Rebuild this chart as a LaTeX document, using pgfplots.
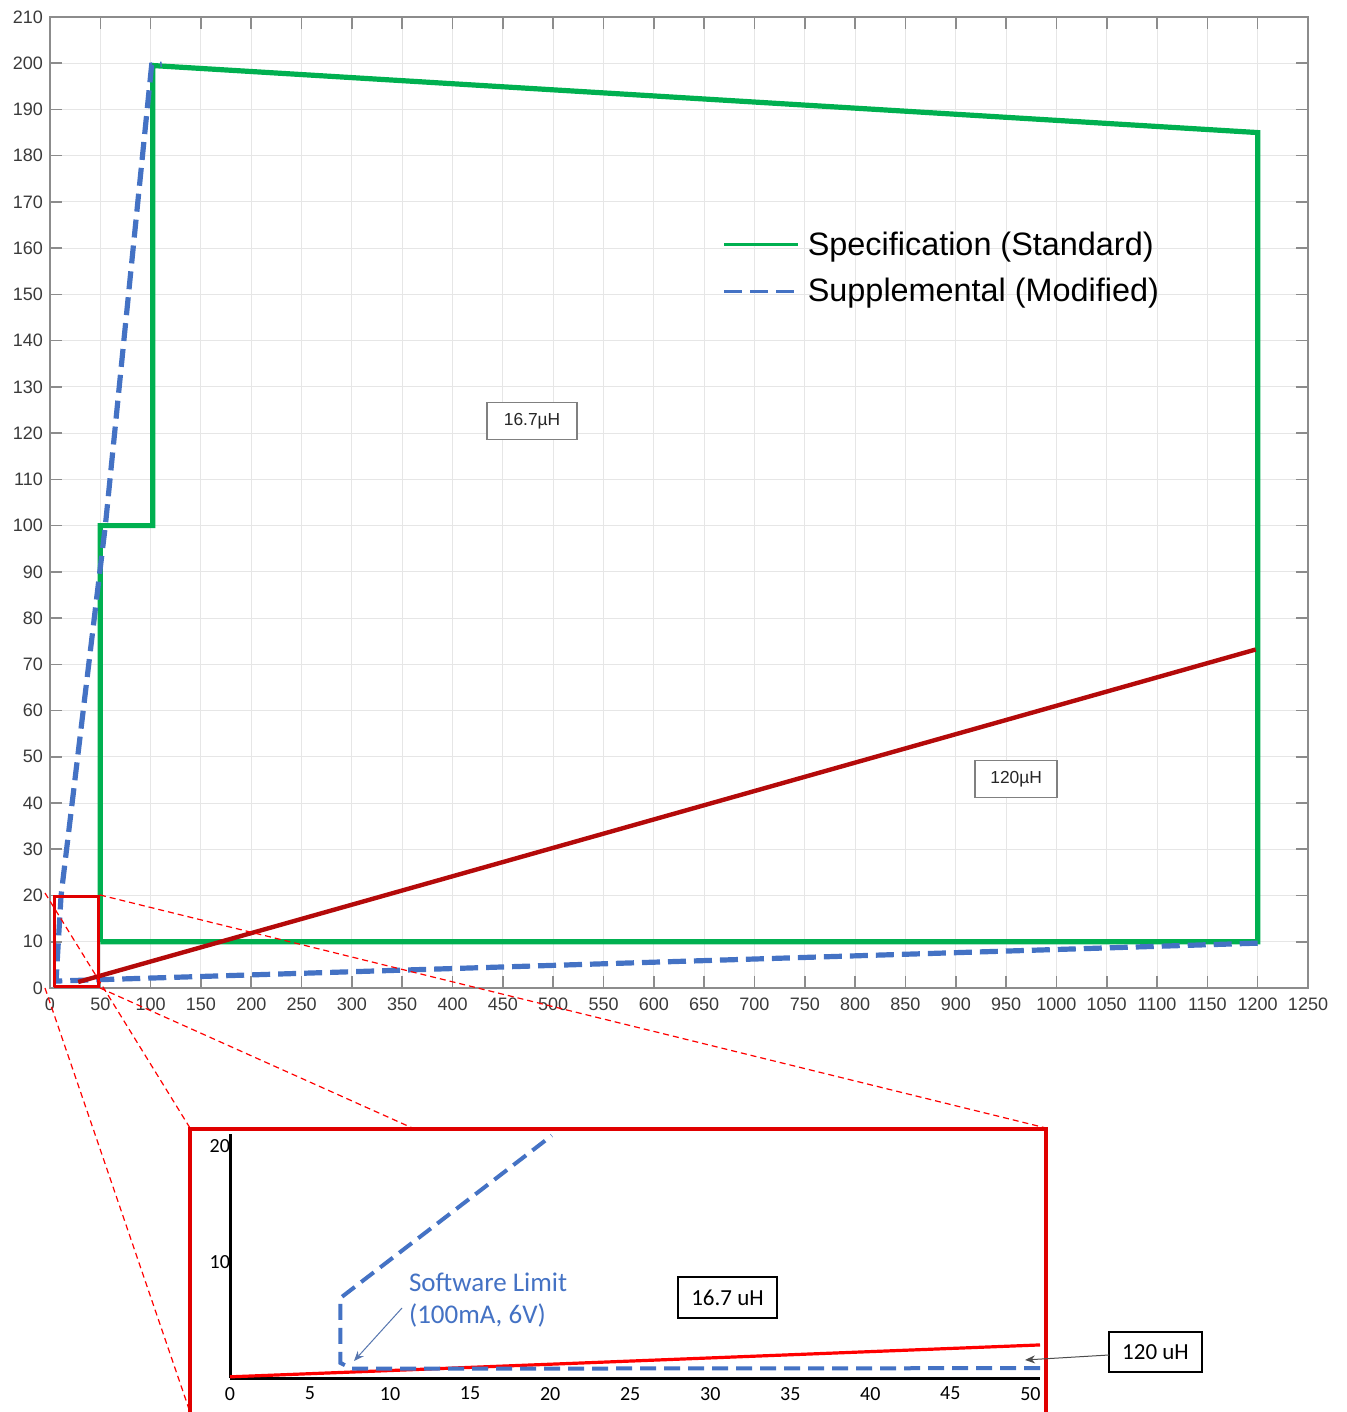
\documentclass[border=0pt]{standalone}
\usepackage{fontspec}
\setmainfont{Liberation Sans}
\newfontfamily\carlito{Carlito}
\usepackage{pgfplots}
\pgfplotsset{compat=1.18}
\usetikzlibrary{arrows.meta}
\definecolor{specgreen}{HTML}{00B050}
\definecolor{supblue}{HTML}{4472C4}
\definecolor{limred}{HTML}{B40A0A}
\definecolor{zoomred}{HTML}{E00000}
\definecolor{axgray}{HTML}{8C8C8C}
\definecolor{lblgray}{HTML}{3A3A3A}
\definecolor{gridgray}{HTML}{E6E6E6}
\begin{document}
\begin{tikzpicture}
\useasboundingbox (0,0) rectangle (673pt,706pt);
% ---------------- main axis ----------------
\begin{axis}[
  at={(25pt,212pt)}, anchor=south west,
  scale only axis, width=629pt, height=485.5pt,
  xmin=0, xmax=1250, ymin=0, ymax=210,
  xtick={0,50,...,1250}, ytick={0,10,...,210},
  grid=major, major grid style={gridgray, line width=0.5pt},
  axis line style={axgray, line width=0.8pt},
  tick style={axgray, line width=0.8pt},
  tick align=inside, major tick length=6pt,
  /pgf/number format/assume math mode=true,
  /pgf/number format/1000 sep={},
  ticklabel style={font=\fontsize{9}{10}\selectfont, text=lblgray},
  xticklabel style={yshift=-1.5pt},
  legend cell align=left,
  legend image code/.code={\draw[#1, line width=1.6pt] (0pt,0pt) -- (37pt,0pt);},
  legend style={draw=none, fill=none, at={(axis cs:662,165.4)}, anchor=north west,
    font=\fontsize{16.2}{19}\selectfont, row sep=6.2pt,
    nodes={inner xsep=4pt, inner ysep=2pt}},
]
\addplot[specgreen, line width=2.6pt, line join=miter] coordinates {
 (50,10) (50,100) (102,100) (102,199.5) (1200,185) (1200,10) (50,10)};
\addlegendentry{Specification (Standard)}
\addplot[supblue, line width=2.6pt, dash pattern=on 9pt off 4pt] coordinates {
 (1200,9.7) (6,1.5) (11,20) (55,100) (78,150) (101,199.6) (111,199.8)};
\addlegendentry{Supplemental (Modified)}
\addplot[limred, line width=2.2pt, forget plot] coordinates {(28,1.3) (1198,73.2)};
\addplot[zoomred, line width=1.5pt, forget plot] coordinates {
 (4,0.3) (4,19.7) (48,19.7) (48,0.3) (4,0.3)};
\node[draw=gray, line width=0.8pt, fill=white, inner sep=0pt, minimum width=45pt,
  minimum height=18.5pt, font=\fontsize{8.7}{10}\selectfont, text=black!85]
  at (axis cs:479,122.6) {16.7µH};
\node[draw=gray, line width=0.8pt, fill=white, inner sep=0pt, minimum width=41pt,
  minimum height=18.5pt, font=\fontsize{8.7}{10}\selectfont, text=black!85]
  at (axis cs:960,45.2) {120µH};
\end{axis}
% ---------------- connectors and frame (pixel coordinates) ----------------
\begin{scope}[x=0.5pt, y=-0.5pt, shift={(0pt,706pt)}]
\draw[red, line width=0.6pt, dash pattern=on 3pt off 2pt] (45,893) -- (190,1128);
\draw[red, line width=0.6pt, dash pattern=on 3pt off 2pt] (45,988) -- (190,1412);
\draw[red, line width=0.6pt, dash pattern=on 3pt off 2pt] (100,895) -- (1046,1128);
\draw[red, line width=0.6pt, dash pattern=on 3pt off 2pt] (100,988) -- (1046,1412);
\draw[zoomred, line width=1.6pt, fill=white] (190,1129) rectangle (1046,1440);
\end{scope}
% ---------------- inset axis ----------------
\begin{axis}[
  at={(115pt,17pt)}, anchor=south west,
  scale only axis, width=405pt, height=121.8pt,
  xmin=0, xmax=50.6, ymin=0, ymax=21,
  axis x line=bottom, axis y line=left,
  axis line style={black, line width=1.5pt, -},
  xtick={0,5,...,50}, ytick={10,20},
  major tick length=0pt,
  clip=false,
  /pgf/number format/assume math mode=true,
  ticklabel style={font=\carlito\fontsize{10}{12}\selectfont, text=black},
  yticklabel style={xshift=3.5pt},
  xticklabel style={yshift=-1pt},
]
\addplot[red, line width=1.6pt] coordinates {(0,0.1) (50.6,2.85)};
\addplot[supblue, line width=2pt, dash pattern=on 8pt off 4pt] coordinates {
 (50.6,0.85) (7.6,0.8) (6.9,1.3) (6.9,6.9) (20.1,20.9)};
\end{axis}
\begin{scope}[x=0.5pt, y=-0.5pt, shift={(0pt,706pt)}]
\node[anchor=west, align=left, text=supblue, font=\carlito\fontsize{13.5}{16}\selectfont]
  at (402,1300) {Software Limit\\(100mA, 6V)};
\draw[-{Stealth[length=5pt,width=4pt]}, color=supblue!70!gray, line width=0.5pt] (402,1308) -- (354,1361);
\node[draw=black, line width=0.7pt, fill=white, inner sep=0pt, minimum width=49.5pt,
  minimum height=20.5pt, font=\carlito\fontsize{11.5}{13}\selectfont] at (727.5,1297.5) {16.7 uH};
\node[draw=black, line width=0.7pt, fill=white, inner sep=0pt, minimum width=46.5pt,
  minimum height=20pt, font=\carlito\fontsize{11.5}{13}\selectfont] at (1155.5,1352) {120 uH};
\draw[-{Stealth[length=5pt,width=4pt]}, black!70, line width=0.5pt] (1109,1355) -- (1025,1360);
\end{scope}
\end{tikzpicture}
\end{document}
